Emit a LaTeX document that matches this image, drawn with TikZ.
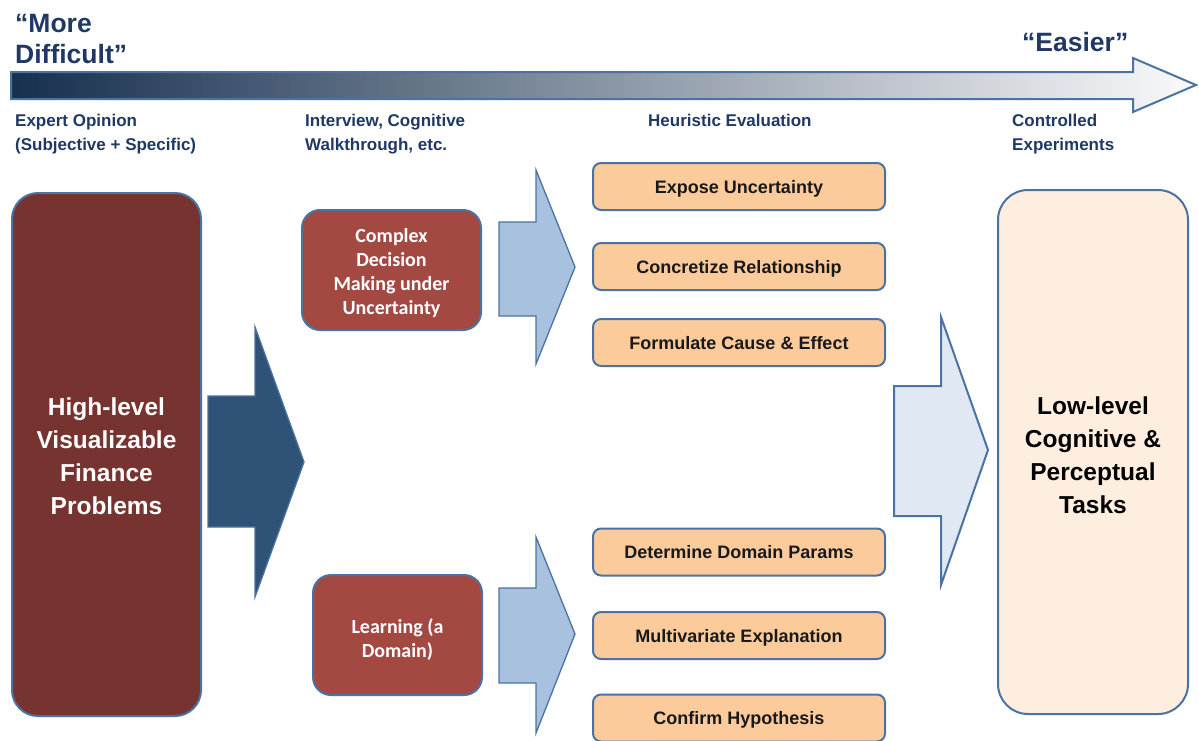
\documentclass[tikz,border=0pt]{standalone}
\usepackage{fontspec}
\setmainfont{Liberation Sans}
\newfontfamily\carl{Carlito}
\definecolor{darkred}{HTML}{76332F}
\definecolor{midred}{HTML}{A34942}
\definecolor{navyarrow}{HTML}{2F5377}
\definecolor{lightarrow}{HTML}{A7C1DF}
\definecolor{palearrow}{HTML}{DFE8F3}
\definecolor{peach}{HTML}{FBCB9C}
\definecolor{cream}{HTML}{FEEEDF}
\definecolor{bordblue}{HTML}{4A73A3}
\definecolor{navytext}{HTML}{1F3864}
\definecolor{gradleft}{HTML}{17304F}
\definecolor{gradright}{HTML}{FAFAFA}
\tikzset{
  bord/.style={draw=bordblue, line width=2pt},
  bigbox/.style={bord, rounded corners=26pt, align=center, inner sep=0pt,
    font=\bfseries\fontsize{24.5}{33}\selectfont},
  redbox/.style={bord, fill=midred, rounded corners=18pt, align=center, inner sep=0pt,
    text=white, font=\carl\bfseries\fontsize{20}{24}\selectfont},
  taskbox/.style={bord, fill=peach, rounded corners=8pt, inner sep=0pt,
    minimum width=292pt, minimum height=47pt, text=black!90,
    text height=13pt, text depth=0pt,
    font=\bfseries\fontsize{18}{20}\selectfont},
  header/.style={anchor=north west, inner sep=0pt, align=left, text=navytext,
    font=\bfseries\fontsize{17}{24}\selectfont},
  titletext/.style={anchor=north west, inner sep=0pt, align=left, text=navytext,
    font=\bfseries\fontsize{26.5}{31}\selectfont},
  blockarrow/.style={draw=bordblue, line width=1.3pt, line join=miter},
}
\begin{document}
\begin{tikzpicture}[x=1pt,y=-1pt]
\useasboundingbox (0,0) rectangle (1199,740);

% top gradient arrow
\path[left color=gradleft, right color=gradright, draw=bordblue, line width=2pt]
  (11,72) -- (1133,72) -- (1133,58) -- (1196,85) -- (1133,112) -- (1133,99) -- (11,99) -- cycle;

% titles
\node[titletext] (more) at (15,14) {“More\\Difficult”};
\node[titletext] (easier) at (1022,32) {“Easier”};

% column headers
\node[header] (h1) at (15,114) {Expert Opinion\\(Subjective + Specific)};
\node[header] (h2) at (305,114) {Interview, Cognitive\\Walkthrough, etc.};
\node[header] (h3) at (648,114) {Heuristic Evaluation};
\node[header] (h4) at (1012,114) {Controlled\\Experiments};

% big boxes
\node[bigbox, fill=darkred, text=white, minimum width=189pt, minimum height=523pt]
  (high) at (106.5,454.5) {\rule{0pt}{22pt}High-level\\Visualizable\\Finance\\Problems};
\node[bigbox, fill=cream, text=black, minimum width=190pt, minimum height=524pt, rounded corners=30pt]
  (low) at (1093,452) {\rule{0pt}{24pt}Low-level\\Cognitive \&\\Perceptual\\Tasks};

% red middle boxes
\node[redbox, minimum width=179pt, minimum height=120pt] (complex) at (391.5,270)
  {\rule{0pt}{21pt}Complex\\Decision\\Making under\\Uncertainty};
\node[redbox, minimum width=169pt, minimum height=120pt] (learn) at (397.5,635)
  {\rule{0pt}{24pt}Learning (a\\Domain)};

% task boxes
\node[taskbox] (t1) at (739,186.5) {Expose Uncertainty};
\node[taskbox] (t2) at (739,266.5) {Concretize Relationship};
\node[taskbox] (t3) at (739,342.5) {Formulate Cause \& Effect};
\node[taskbox] (t4) at (739,552) {Determine Domain Params};
\node[taskbox] (t5) at (739,635.5) {Multivariate Explanation};
\node[taskbox] (t6) at (739,718) {Confirm Hypothesis};

% block arrows
\path[blockarrow, fill=navyarrow]
  (208,396) -- (255,396) -- (255,327) -- (304,462) -- (255,597) -- (255,527) -- (208,527) -- cycle;
\path[blockarrow, fill=lightarrow]
  (499,222) -- (536,222) -- (536,170) -- (575,267) -- (536,364) -- (536,316) -- (499,316) -- cycle;
\path[blockarrow, fill=lightarrow]
  (499,588) -- (536,588) -- (536,537) -- (575,634) -- (536,733) -- (536,683) -- (499,683) -- cycle;
\path[blockarrow, fill=palearrow, line width=2pt]
  (894,386) -- (941,386) -- (941,317) -- (988,450) -- (941,585) -- (941,516) -- (894,516) -- cycle;
\end{tikzpicture}
\end{document}
